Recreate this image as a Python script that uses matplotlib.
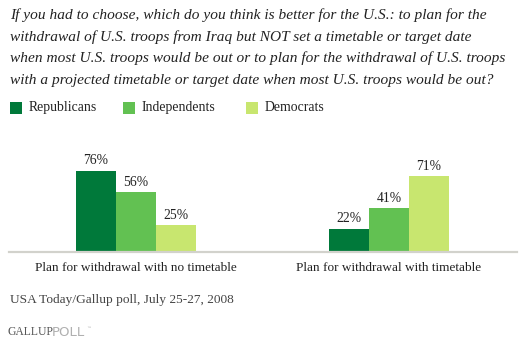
import matplotlib
matplotlib.use("Agg")
import matplotlib.pyplot as plt
import numpy as np

# Survey data
categories = ["Plan for withdrawal with no timetable", "Plan for withdrawal with timetable"]
groups = ["Republicans", "Independents", "Democrats"]
republicans = [76, 22]
independents = [56, 41]
democrats = [25, 71]
colors = ["#00793a", "#62c152", "#c8e66f"]

title_lines = [
    "If you had to choose, which do you think is better for the U.S.: to plan for the",
    "withdrawal of U.S. troops from Iraq but NOT set a timetable or target date",
    "when most U.S. troops would be out or to plan for the withdrawal of U.S. troops",
    "with a projected timetable or target date when most U.S. troops would be out?",
]
source = "USA Today/Gallup poll, July 25-27, 2008"

W, H = 524, 345
SERIF = ["Liberation Serif", "DejaVu Serif"]

fig = plt.figure(figsize=(W / 100, H / 100), dpi=100)
fig.patch.set_facecolor("white")


def px(x, y):
    return x / W, 1 - y / H


# Title
for i, line in enumerate(title_lines):
    fig.text(*px(10, 15 + i * 21.8), line, family=SERIF, style="italic",
             fontsize=11.1, color="#222222", va="center", ha="left")

# Legend
legend_x = [10, 123, 246]
for name, c, lx in zip(groups, colors, legend_x):
    fig.patches.append(plt.Rectangle(px(lx, 114), 12 / W, 12 / H,
                                     transform=fig.transFigure, facecolor=c,
                                     edgecolor="none"))
    fig.text(*px(lx + 19, 107.5), name, family=SERIF, fontsize=9.9,
             color="#222222", va="center", ha="left")

# Bars
ax_left, ax_right = 9, 517
base_y, top_y = 252, 252 - 106.5
ax = fig.add_axes([ax_left / W, 1 - base_y / H, (ax_right - ax_left) / W,
                   (base_y - top_y) / H])
x = np.arange(len(categories))
bw = 0.158
series = [republicans, independents, democrats]
for k, (vals, c) in enumerate(zip(series, colors)):
    pos = x + (k - 1) * bw
    ax.bar(pos, vals, width=bw, color=c, edgecolor="none")
    for xi, v in zip(pos, vals):
        ax.text(xi, v + 3.5, f"{v}%", ha="center", va="bottom",
                family=SERIF, fontsize=9.8, color="#222222")

ax.set_xlim(-0.502, 1.506)
ax.set_ylim(0, 100)
ax.axis("off")
ax.axhline(0, color="#d2d2cc", lw=1.6, clip_on=False)

# Category labels
for xi, cat in zip(x, categories):
    ax.annotate(cat, (xi, 0), xytext=(0, -16), textcoords="offset pixels",
                ha="center", va="center", family=SERIF, fontsize=9.5,
                color="#222222")

# Source and branding
fig.text(*px(10, 300), source, family=SERIF, fontsize=9.6, color="#444444",
         va="center", ha="left")
fig.text(*px(7, 332), "GALLUP", family=SERIF, fontsize=8.4,
         color="#555555", va="center", ha="left")
fig.text(*px(51.5, 332), "POLL", family=["DejaVu Sans"], fontsize=9.6,
         color="#b0b0b0", va="center", ha="left")
fig.text(*px(86, 328), "\u2122", family=["DejaVu Sans"], fontsize=3.5,
         color="#b0b0b0", va="center", ha="left")

fig.savefig("out.png", dpi=100, facecolor="white")
